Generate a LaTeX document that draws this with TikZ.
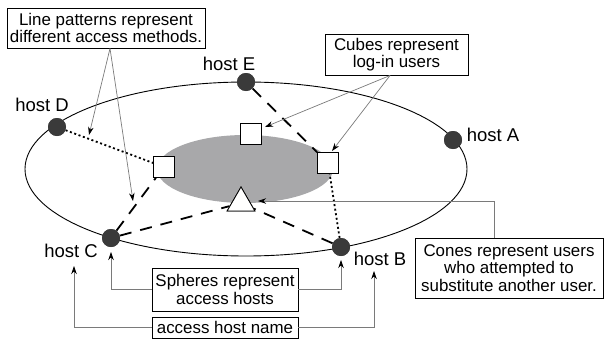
\documentclass[tikz,border=0pt]{standalone}
\usepackage{fontspec}
\setmainfont{Liberation Sans}
\usetikzlibrary{arrows.meta,shapes.geometric}
\definecolor{hostgray}{HTML}{3A3A3A}
\definecolor{areagray}{HTML}{A8A8AA}
\definecolor{anngray}{HTML}{7A7A7A}
\begin{document}
\begin{tikzpicture}[x=1pt,y=-1pt,
  host/.style={circle,fill=hostgray,minimum size=18pt,inner sep=0pt},
  cube/.style={draw,fill=white,line width=0.8pt,minimum size=21pt,inner sep=0pt},
  cone/.style={draw,fill=white,line width=0.8pt,regular polygon,regular polygon sides=3,minimum size=32pt,inner sep=0pt},
  lab/.style={font=\fontsize{18.5}{20}\selectfont,inner sep=0pt},
  note/.style={draw,line width=0.7pt,fill=white,align=center,font=\fontsize{16.9}{17.5}\selectfont,inner sep=1pt},
  dashline/.style={line width=1.8pt,dash pattern=on 12pt off 9pt},
  dotline/.style={line width=1.8pt,dash pattern=on 2pt off 2.6pt},
  ann/.style={draw=anngray,line width=0.7pt,-{Stealth[length=8pt,width=5.5pt,inset=2.5pt,color=black]}}
]
\useasboundingbox (0,0) rectangle (604,343);
% ellipses
\draw[line width=0.9pt] (246,169) ellipse [x radius=221, y radius=87];
\fill[areagray] (245,169) ellipse [x radius=88, y radius=34];
% nodes
\node[host] (hA) at (453,140) {};
\node[host] (hB) at (341,247) {};
\node[host] (hC) at (111,238) {};
\node[host] (hD) at (57,127) {};
\node[host] (hE) at (246,82) {};
\node[cube] (ct) at (251,134) {};
\node[cube] (cl) at (164,167) {};
\node[cube] (cr) at (328,163) {};
\node[cone] (tri) at (241,203) {};
% connectors
\draw[dashline] (hE) -- (cr);
\draw[dotline] (hD) -- (cl);
\draw[dotline] (hB) -- (cr);
\draw[dashline] (hC) -- (cl);
\draw[dashline] (hC) -- (tri);
\draw[dashline] (hB) -- (tri);
% redraw shapes on top
\node[host] at (hA) {};
\node[host] at (hB) {};
\node[host] at (hC) {};
\node[host] at (hD) {};
\node[host] at (hE) {};
\node[cube] at (ct) {};
\node[cube] at (cl) {};
\node[cube] at (cr) {};
\node[cone] at (tri) {};
% host labels
\node[lab] (lA) at (493,135) {host A};
\node[lab] (lB) at (380,259) {host B};
\node[lab] (lC) at (71,251) {host C};
\node[lab] (lD) at (42,105) {host D};
\node[lab] (lE) at (229,64) {host E};
% notes
\node[note,minimum width=198pt,minimum height=40pt] (n1) at (106,28) {Line patterns represent\\different access methods.};
\node[note,minimum width=143pt,minimum height=41pt] (n2) at (396.5,54.5) {Cubes represent\\log-in users};
\node[note,minimum width=188pt,minimum height=60pt] (n3) at (509,268) {Cones represent users\\who attempted to\\substitute another user.};
\node[note,minimum width=146pt,minimum height=43pt] (n4) at (225,289.5) {Spheres represent\\access hosts};
\node[note,minimum width=146pt,minimum height=21pt] (n5) at (225,327.5) {access host name};
% annotation end points
\coordinate (s1) at (110,48.5);
\coordinate (t1a) at (89,135);
\coordinate (t1b) at (133,201);
\coordinate (s2) at (390,75.5);
\coordinate (t2a) at (265,127);
\coordinate (t2b) at (332,151);
\coordinate (s3) at (494,238);
\coordinate (t3) at (258,201);
\coordinate (t4a) at (111,252);
\coordinate (t4b) at (341,260);
\coordinate (t5a) at (74,266);
\coordinate (t5b) at (374,271);
% annotation arrows
\draw[ann] (s1) -- (t1a);
\draw[ann] (s1) -- (t1b);
\draw[ann] (s2) -- (t2a);
\draw[ann] (s2) -- (t2b);
\draw[ann] (s3) |- (t3);
\draw[ann] (n4.west) -| (t4a);
\draw[ann] (n4.east) -| (t4b);
\draw[ann] (n5.west) -| (t5a);
\draw[ann] (n5.east) -| (t5b);
\end{tikzpicture}
\end{document}
